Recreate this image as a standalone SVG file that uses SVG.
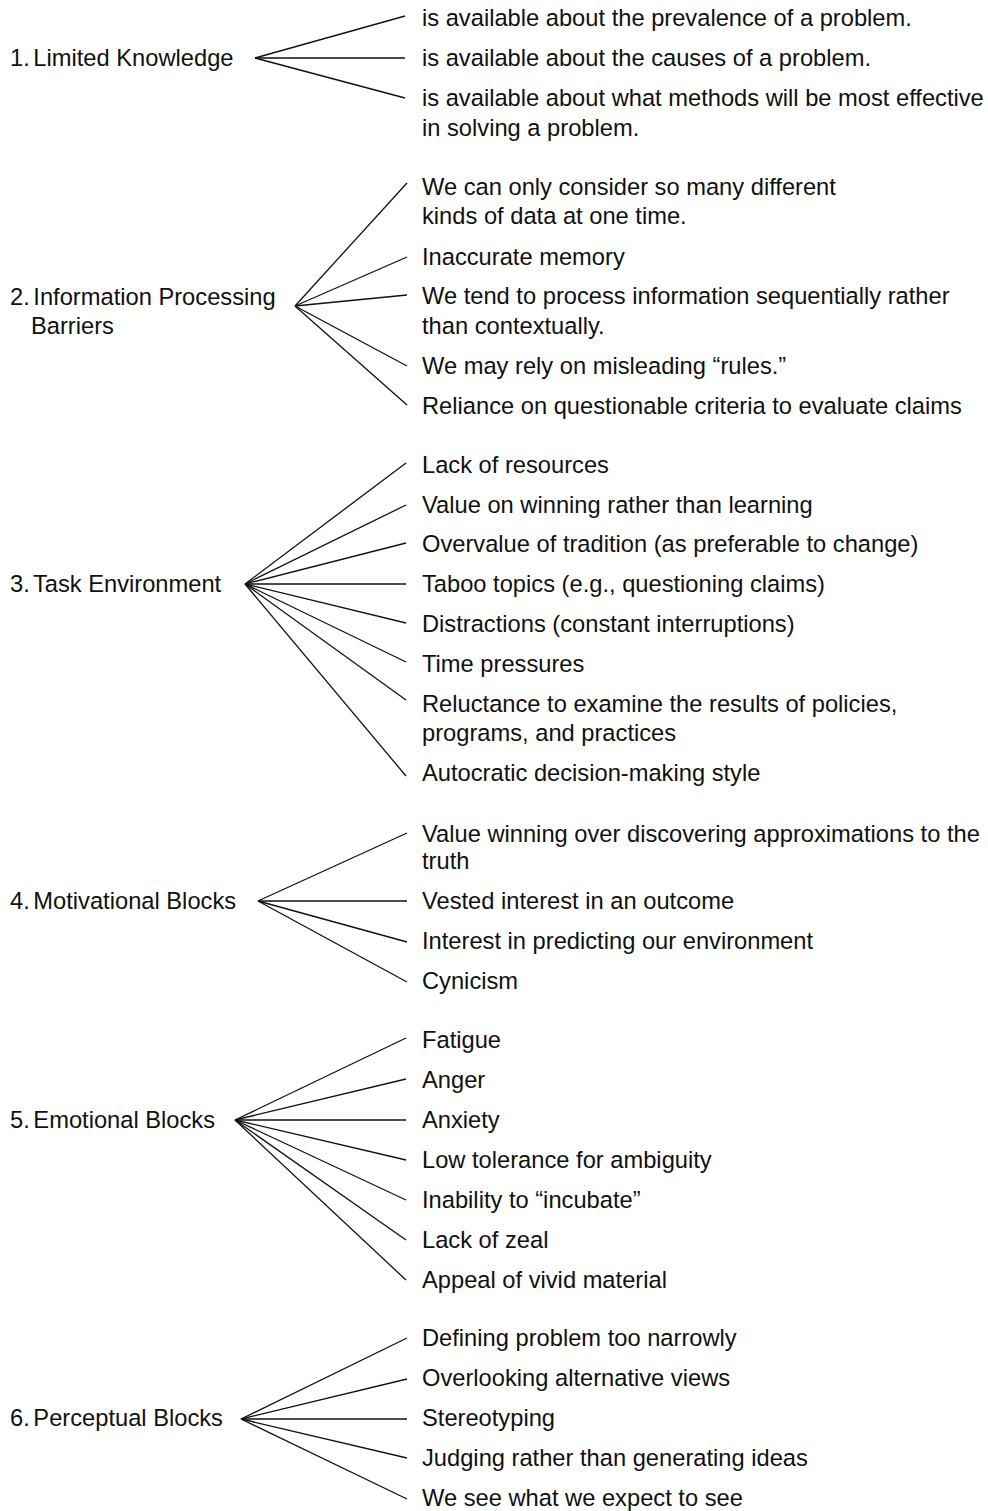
<svg xmlns="http://www.w3.org/2000/svg" width="988" height="1511" viewBox="0 0 988 1511">
<style>
text{font-family:"Liberation Sans",Arial,Helvetica,sans-serif;font-size:23.7px;fill:#111}
.c line{stroke:#111;stroke-width:1.3;fill:none}
</style>
<rect width="988" height="1511" fill="#fff"/>
<g class="c" id="connectors">
<line x1="255" y1="58" x2="405" y2="16"/>
<line x1="255" y1="58" x2="405" y2="58"/>
<line x1="255" y1="58" x2="405" y2="98"/>
<line x1="295" y1="306" x2="407" y2="183"/>
<line x1="295" y1="306" x2="407" y2="257"/>
<line x1="295" y1="306" x2="407" y2="295"/>
<line x1="295" y1="306" x2="407" y2="366"/>
<line x1="295" y1="306" x2="407" y2="405"/>
<line x1="245" y1="584" x2="406" y2="463"/>
<line x1="245" y1="584" x2="406" y2="505"/>
<line x1="245" y1="584" x2="406" y2="543"/>
<line x1="245" y1="584" x2="406" y2="584"/>
<line x1="245" y1="584" x2="406" y2="623"/>
<line x1="245" y1="584" x2="406" y2="662"/>
<line x1="245" y1="584" x2="406" y2="700"/>
<line x1="245" y1="584" x2="406" y2="776"/>
<line x1="258" y1="901" x2="407" y2="833"/>
<line x1="258" y1="901" x2="407" y2="901"/>
<line x1="258" y1="901" x2="407" y2="942"/>
<line x1="258" y1="901" x2="407" y2="982"/>
<line x1="235" y1="1120" x2="406" y2="1038"/>
<line x1="235" y1="1120" x2="406" y2="1079"/>
<line x1="235" y1="1120" x2="406" y2="1120"/>
<line x1="235" y1="1120" x2="406" y2="1160"/>
<line x1="235" y1="1120" x2="406" y2="1200"/>
<line x1="235" y1="1120" x2="406" y2="1240"/>
<line x1="235" y1="1120" x2="406" y2="1280"/>
<line x1="241" y1="1419" x2="407" y2="1338"/>
<line x1="241" y1="1419" x2="407" y2="1379"/>
<line x1="241" y1="1419" x2="407" y2="1419"/>
<line x1="241" y1="1419" x2="407" y2="1458"/>
<line x1="241" y1="1419" x2="407" y2="1499"/>
</g>
<g id="g1">
<text x="10" y="66">1.<tspan dx="-3"> Limited Knowledge</tspan></text>
<text x="422" y="26">is available about the prevalence of a problem.</text>
<text x="422" y="66">is available about the causes of a problem.</text>
<text x="422" y="106">is available about what methods will be most effective</text>
<text x="422" y="136">in solving a problem.</text>
</g>
<g id="g2">
<text x="10" y="305">2.<tspan dx="-3"> Information Processing</tspan></text>
<text x="31" y="334">Barriers</text>
<text x="422" y="195">We can only consider so many different</text>
<text x="422" y="224">kinds of data at one time.</text>
<text x="422" y="265">Inaccurate memory</text>
<text x="422" y="304">We tend to process information sequentially rather</text>
<text x="422" y="334">than contextually.</text>
<text x="422" y="374">We may rely on misleading “rules.”</text>
<text x="422" y="414">Reliance on questionable criteria to evaluate claims</text>
</g>
<g id="g3">
<text x="10" y="592">3.<tspan dx="-3"> Task Environment</tspan></text>
<text x="422" y="473">Lack of resources</text>
<text x="422" y="513">Value on winning rather than learning</text>
<text x="422" y="552">Overvalue of tradition (as preferable to change)</text>
<text x="422" y="592">Taboo topics (e.g., questioning claims)</text>
<text x="422" y="632">Distractions (constant interruptions)</text>
<text x="422" y="672">Time pressures</text>
<text x="422" y="712">Reluctance to examine the results of policies,</text>
<text x="422" y="741">programs, and practices</text>
<text x="422" y="781">Autocratic decision-making style</text>
</g>
<g id="g4">
<text x="10" y="909">4.<tspan dx="-3"> Motivational Blocks</tspan></text>
<text x="422" y="842">Value winning over discovering approximations to the</text>
<text x="422" y="869">truth</text>
<text x="422" y="909">Vested interest in an outcome</text>
<text x="422" y="949">Interest in predicting our environment</text>
<text x="422" y="989">Cynicism</text>
</g>
<g id="g5">
<text x="10" y="1128">5.<tspan dx="-3"> Emotional Blocks</tspan></text>
<text x="422" y="1048">Fatigue</text>
<text x="422" y="1088">Anger</text>
<text x="422" y="1128">Anxiety</text>
<text x="422" y="1168">Low tolerance for ambiguity</text>
<text x="422" y="1208">Inability to “incubate”</text>
<text x="422" y="1248">Lack of zeal</text>
<text x="422" y="1288">Appeal of vivid material</text>
</g>
<g id="g6">
<text x="10" y="1426">6.<tspan dx="-3"> Perceptual Blocks</tspan></text>
<text x="422" y="1346">Defining problem too narrowly</text>
<text x="422" y="1386">Overlooking alternative views</text>
<text x="422" y="1426">Stereotyping</text>
<text x="422" y="1466">Judging rather than generating ideas</text>
<text x="422" y="1506">We see what we expect to see</text>
</g>
</svg>
